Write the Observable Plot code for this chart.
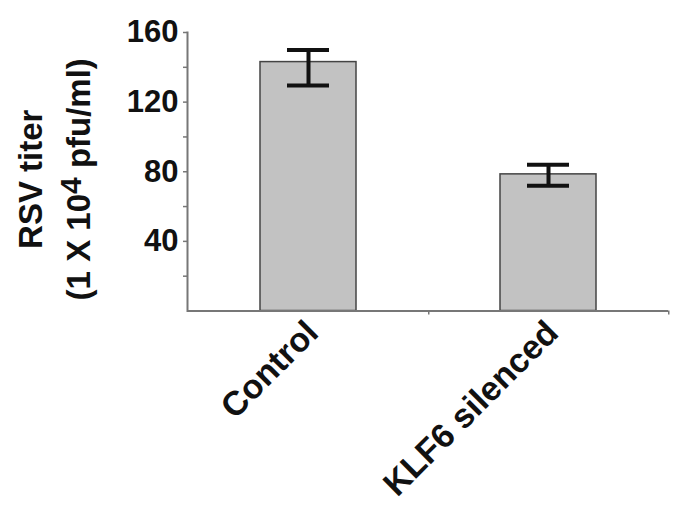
<!DOCTYPE html>
<html>
<head>
<meta charset="utf-8">
<script src="https://cdn.jsdelivr.net/npm/d3@7"></script>
<script src="https://cdn.jsdelivr.net/npm/@observablehq/plot@0.6"></script>
<style>
  html, body { margin: 0; padding: 0; background: #fff; }
  #chart svg { display: block; }
</style>
</head>
<body>
<div id="chart"></div>
<script>
// ---- data ----
const categories = ["Control", "KLF6 silenced"];
const means = [143, 78.5];
const errLow = [129.5, 72];
const errHigh = [150, 84];
const yTicks = [40, 80, 120, 160];
const yMinorTicks = [20, 60, 100, 140];
const yTitleLine1 = "RSV titer";
const yTitleLine2 = ["(1 X 10", "4", " pfu/ml)"];

const data = categories.map((c, i) => ({cat: c, mean: means[i], lo: errLow[i], hi: errHigh[i]}));

// ---- layout ----
const W = 685, H = 515;
const ML = 187, MR = 17, MT = 32, MB = 204.5;
const step = (W - ML - MR) / categories.length;
const axisColor = "#777";
const font = "'Liberation Sans', Arial, Helvetica, sans-serif";

const chart = Plot.plot({
  width: W,
  height: H,
  marginLeft: ML,
  marginRight: MR,
  marginTop: MT,
  marginBottom: MB,
  style: {fontFamily: font, background: "#fff", color: "#111", overflow: "visible"},
  x: {domain: categories, paddingInner: 0.6, paddingOuter: 0.3, label: null},
  y: {domain: [0, 160], label: null},
  marks: [
    Plot.barY(data, {x: "cat", y: "mean", fill: "#c2c2c2", stroke: "#444", strokeWidth: 1.5}),
    Plot.ruleX(data, {x: "cat", y1: "lo", y2: "hi", stroke: "#111", strokeWidth: 4}),
    Plot.tickY(data, {x: "cat", y: "lo", stroke: "#111", strokeWidth: 4, insetLeft: 27, insetRight: 27}),
    Plot.tickY(data, {x: "cat", y: "hi", stroke: "#111", strokeWidth: 4, insetLeft: 27, insetRight: 27}),
    Plot.axisY({ticks: yTicks, tickSize: 4, tickPadding: 5, fontSize: 31, fontWeight: "bold",
                stroke: axisColor, strokeWidth: 1.5, fill: "#111", label: null}),
    Plot.axisY({ticks: yMinorTicks, tickSize: 4, text: null, stroke: axisColor, strokeWidth: 1.5, label: null}),
    Plot.axisX({tickRotate: -45, tickSize: 0, tickPadding: 16, dx: 4, fontSize: 34, fontWeight: "bold", fill: "#111", label: null}),
    Plot.ruleX(categories, {x: d => d, y1: 0, y2: 0, insetBottom: -4, dx: step / 2, stroke: axisColor, strokeWidth: 1.5}),
    Plot.ruleY([0], {stroke: axisColor, strokeWidth: 2}),
    Plot.frame({anchor: "left", stroke: axisColor, strokeWidth: 2})
  ]
});

// y-axis title with superscript (real text)
const svg = d3.select(chart);
const cy = MT + (H - MB - MT) / 2 + 8;
svg.append("text")
  .attr("transform", `translate(42,${cy}) rotate(-90)`)
  .attr("text-anchor", "middle")
  .attr("font-family", font).attr("font-weight", "bold").attr("font-size", 33).attr("fill", "#111")
  .text(yTitleLine1);
const t2 = svg.append("text")
  .attr("transform", `translate(90,${cy}) rotate(-90)`)
  .attr("text-anchor", "middle")
  .attr("font-family", font).attr("font-weight", "bold").attr("font-size", 33).attr("fill", "#111");
t2.append("tspan").text(yTitleLine2[0]);
t2.append("tspan").attr("dy", -9).attr("font-size", 30).text(yTitleLine2[1]);
t2.append("tspan").attr("dy", 9).text(yTitleLine2[2]);

document.getElementById("chart").appendChild(chart);
</script>
</body>
</html>
